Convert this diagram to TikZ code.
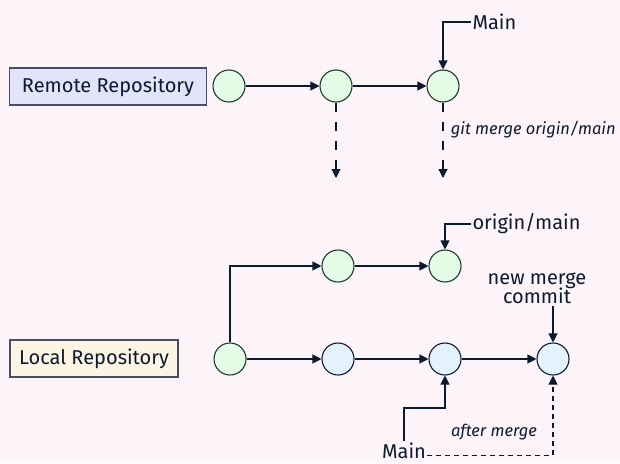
\documentclass[tikz,border=0pt]{standalone}
\usepackage{fontspec}
\setmainfont{Fira Sans}
\usepackage{tikz}
\usetikzlibrary{arrows.meta}
\definecolor{git bg}{HTML}{FDF4FA}
\definecolor{git line}{HTML}{0B1A2E}
\definecolor{git green}{HTML}{E4FBE6}
\definecolor{git green line}{HTML}{1E3A2A}
\definecolor{git blue}{HTML}{E4F2FE}
\definecolor{git lavender}{HTML}{E2E4FA}
\definecolor{git cream}{HTML}{FEF4E4}
\definecolor{git box line}{HTML}{474D66}

\begin{document}
\begin{tikzpicture}[x=1pt, y=-1pt,
		font=\fontsize{20}{23}\selectfont,
		color=git line, line width=1.1pt,
		tip/.style={-{Triangle[length=9pt, width=9pt]}},
		commit/.style={circle, draw=git green line, minimum size=32pt, inner sep=0pt},
		remote commit/.style={commit, fill=git green},
		local commit/.style={commit, fill=git blue, draw=git line},
		repo/.style={draw=git box line, minimum height=37pt, inner sep=0pt},
		note/.style={font=\fontsize{16.5}{20}\selectfont\itshape}]
			% background
			\fill[git bg] (0, 0) rectangle (620, 463);
			\useasboundingbox (0, 0) rectangle (620, 463);
			% remote
			\begin{scope}
				\node[repo, fill=git lavender, minimum width=197pt] (remote) at (108, 86.5) {Remote Repository};
				\node[remote commit] (r1) at (229, 86) {};
				\node[remote commit] (r2) at (336, 86) {};
				\node[remote commit] (r3) at (443, 86) {};
				\node[anchor=west, inner sep=1pt] (main top) at (471, 22) {Main};
				\coordinate (fetch a) at (336, 178);
				\coordinate (fetch b) at (443, 178);
				\node[note, anchor=west] (merge cmd) at (447, 130) {git merge origin/main};
			\end{scope}
			% local
			\begin{scope}
				\node[repo, fill=git cream, minimum width=168pt] (local) at (94, 358.5) {Local Repository};
				\node[remote commit] (l1) at (230, 359) {};
				\node[remote commit] (o2) at (338, 266) {};
				\node[remote commit] (o3) at (445, 266) {};
				\node[local commit] (l2) at (338, 359) {};
				\node[local commit] (l3) at (445, 359) {};
				\node[local commit] (l4) at (553, 359) {};
				\node[anchor=west, inner sep=1pt] (origin) at (471, 224) {origin/main};
				\node[align=center, inner sep=2pt] (merge commit) at (537, 288) {new merge\\[-4pt]commit};
				\node[anchor=base, inner sep=1pt] (main low) at (404, 458) {Main};
				\node[note] (after) at (494, 432) {after merge};
			\end{scope}
			% connectors
			\draw[tip] (r1) -- (r2);
			\draw[tip] (r2) -- (r3);
			\draw[tip] (main top.west) -| (r3);
			\draw[tip, dash pattern=on 9pt off 10pt] (r2) -- (fetch a);
			\draw[tip, dash pattern=on 9pt off 10pt] (r3) -- (fetch b);
			\draw[tip] (l1) |- (o2);
			\draw[tip] (o2) -- (o3);
			\draw[tip] (origin.west) -| (o3);
			\draw[tip] (l1) -- (l2);
			\draw[tip] (l2) -- (l3);
			\draw[tip] (l3) -- (l4);
			\draw[tip] (merge commit.south -| l4) -- (l4);
			\draw[tip] (main low.north) -- (main low.north |- 0, 408) -| (l3);
			\draw[tip, dash pattern=on 5pt off 4pt] ([yshift=-5pt]main low.east) -| (l4);
		\end{tikzpicture}
\end{document}
